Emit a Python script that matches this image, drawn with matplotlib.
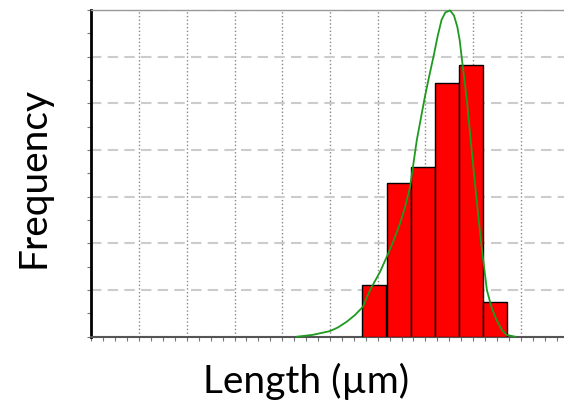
import matplotlib
matplotlib.use("Agg")
import matplotlib.pyplot as plt
from matplotlib.ticker import MultipleLocator, NullFormatter

# histogram bins (grid units) and bar heights
bin_left = [5.68, 6.19, 6.69, 7.20, 7.70, 8.20]
bin_width = 0.505
freq = [1.10, 3.29, 3.63, 5.44, 5.82, 0.74]

# fitted distribution curve
fit_x = [4.31, 4.64, 5.00, 5.17, 5.35, 5.52, 5.69, 5.84, 6.05, 6.19, 6.33, 6.47,
         6.58, 6.68, 6.82, 6.99, 7.08, 7.17, 7.26, 7.34, 7.42, 7.52, 7.60, 7.67,
         7.72, 7.76, 7.87, 7.97, 8.06, 8.17, 8.29, 8.39, 8.49, 8.60, 8.70, 8.88]
fit_y = [0.00, 0.04, 0.12, 0.20, 0.32, 0.46, 0.64, 1.00, 1.39, 1.71, 2.05, 2.43,
         2.80, 3.21, 4.21, 5.14, 5.58, 6.00, 6.45, 6.79, 6.95, 6.99, 6.88, 6.64,
         6.35, 6.00, 5.07, 4.00, 3.08, 2.00, 1.00, 0.62, 0.36, 0.15, 0.04, 0.00]

fig = plt.figure(figsize=(5.64, 4.03), dpi=100)
ax = fig.add_axes([0.1622, 0.1645, 0.8457, 0.8107])

ax.bar(bin_left, freq, width=bin_width, align='edge', color='#ff0000',
       edgecolor='black', linewidth=1.0, zorder=3)
ax.plot(fit_x, fit_y, color='#1e9a1e', linewidth=1.3, zorder=4, clip_on=False)

ax.set_xlim(0, 10)
ax.set_ylim(0, 7)
ax.xaxis.set_major_locator(MultipleLocator(1))
ax.xaxis.set_minor_locator(MultipleLocator(0.25))
ax.yaxis.set_major_locator(MultipleLocator(1))
ax.yaxis.set_minor_locator(MultipleLocator(0.5))
ax.xaxis.set_major_formatter(NullFormatter())
ax.yaxis.set_major_formatter(NullFormatter())
ax.tick_params(which='both', direction='out', color='#777777', length=3, width=0.8)

ax.grid(axis='x', which='major', linestyle=':', color='#888888', linewidth=1.0, zorder=0)
ax.grid(axis='y', which='major', linestyle=(0, (5, 3)), color='#cccccc', linewidth=1.5, zorder=0)
ax.set_axisbelow(True)

ax.spines['left'].set_color('black')
ax.spines['left'].set_linewidth(2.0)
ax.spines['bottom'].set_color('#555555')
ax.spines['bottom'].set_linewidth(1.5)
ax.spines['top'].set_color('#999999')
ax.spines['top'].set_linewidth(1.0)
ax.spines['right'].set_visible(False)

fig.text(34 / 564, 1 - 178 / 403, 'Frequency', rotation=90, ha='center', va='center',
         fontsize=28, family='Lato')
fig.text(306 / 564, 1 - 381 / 403, 'Length (\u00b5m)', ha='center', va='center',
         fontsize=28, family='Lato')

fig.savefig('out.png', dpi=100)
